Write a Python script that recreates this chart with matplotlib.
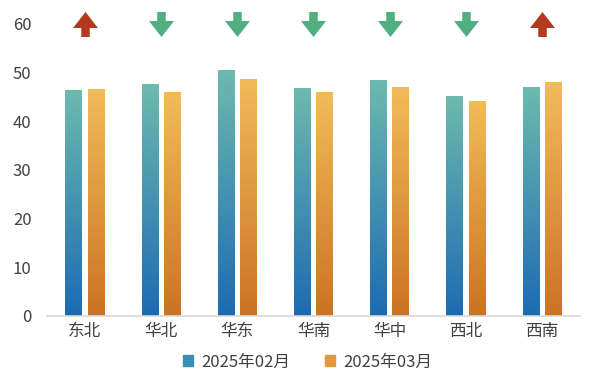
import numpy as np
import matplotlib
matplotlib.use("Agg")
import matplotlib.pyplot as plt
from matplotlib.colors import LinearSegmentedColormap
from matplotlib.path import Path
from matplotlib.patches import Patch

plt.rcParams['font.family'] = ['Noto Sans CJK SC', 'DejaVu Sans']

regions = ["东北", "华北", "华东", "华南", "华中", "西北", "西南"]
feb = [46.3, 47.5, 50.5, 46.8, 48.3, 45.0, 46.9]
mar = [46.6, 45.9, 48.5, 45.9, 47.0, 44.1, 47.9]
series_names = ["2025年02月", "2025年03月"]
yticks = [0, 10, 20, 30, 40, 50, 60]

cm_feb = LinearSegmentedColormap.from_list("feb", ["#1C6BB3", "#6DBAAE"])
cm_mar = LinearSegmentedColormap.from_list("mar", ["#CB7323", "#F2BB5A"])

fig = plt.figure(figsize=(6, 3.91), dpi=100)
ax = fig.add_axes([0.078, 0.192, 0.889, 0.747])

x = np.arange(len(regions))
w = 0.22
off = 0.145
grad = np.linspace(0, 1, 256).reshape(-1, 1)

def gbar(xc, h, cmap):
    ax.imshow(grad, extent=[xc - w / 2, xc + w / 2, 0, h], origin="lower",
              aspect="auto", cmap=cmap, zorder=2, interpolation="bilinear")

for i in range(len(regions)):
    gbar(x[i] - off, feb[i], cm_feb)
    gbar(x[i] + off, mar[i], cm_mar)

# arrows: direction of change
down = Path([(-0.17, 0.5), (0.17, 0.5), (0.17, 0.14), (0.5, 0.14), (0, -0.5),
             (-0.5, 0.14), (-0.17, 0.14), (-0.17, 0.5)], closed=True)
up = Path([(-0.17, -0.5), (0.17, -0.5), (0.17, -0.14), (0.5, -0.14), (0, 0.5),
           (-0.5, -0.14), (-0.17, -0.14), (-0.17, -0.5)], closed=True)
for i in range(len(regions)):
    if mar[i] >= feb[i]:
        ax.plot(x[i], 60, marker=up, ms=18, color="#B33A1F", mew=0,
                clip_on=False, zorder=3)
    else:
        ax.plot(x[i], 60, marker=down, ms=18, color="#4FAF7E", mew=0,
                clip_on=False, zorder=3)

ax.set_xlim(-0.5, len(regions) - 0.5)
ax.set_ylim(0, 60)
ax.set_yticks(yticks)
ax.set_xticks(x)
ax.set_xticklabels(regions)
ax.tick_params(axis="both", length=0, labelsize=12, colors="#404040")
ax.tick_params(axis="x", pad=5)
ax.tick_params(axis="y", pad=11)
for s in ["top", "right", "left"]:
    ax.spines[s].set_visible(False)
ax.spines["bottom"].set_color("#D9D9D9")
ax.spines["bottom"].set_linewidth(1.2)

handles = [Patch(color="#3A8DB3"), Patch(color="#E2993E")]
fig.legend(handles, series_names, loc="center", bbox_to_anchor=(0.513, 0.074),
           ncol=2, frameon=False, fontsize=12, handlelength=0.6,
           handleheight=0.6, handletextpad=0.5, columnspacing=2.1,
           labelcolor="#404040")

fig.savefig("out.png", dpi=100)
